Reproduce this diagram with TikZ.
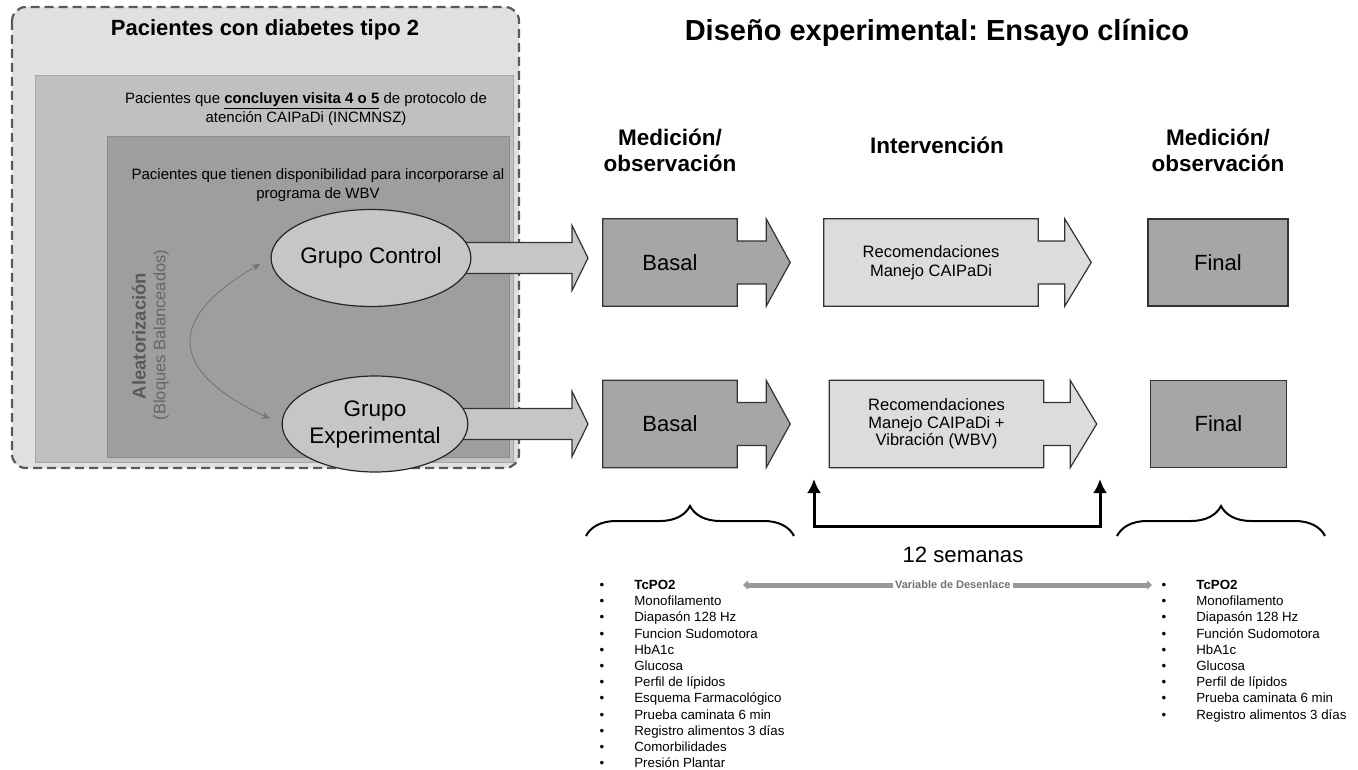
\documentclass[tikz,border=0pt]{standalone}
\usepackage{fontspec}
\setmainfont{Liberation Sans}
\usetikzlibrary{shapes.geometric, arrows.meta, positioning, calc, decorations.pathreplacing}
\frenchspacing

\definecolor{panelclaro}{HTML}{E0E0E0}
\definecolor{panelmedio}{HTML}{C0C0C0}
\definecolor{paneloscuro}{HTML}{9E9E9E}
\definecolor{grisgrupo}{HTML}{C6C6C6}
\definecolor{grismedicion}{HTML}{A6A6A6}
\definecolor{grisinterv}{HTML}{DCDCDC}

\pgfdeclarelayer{fondo}
\pgfdeclarelayer{medio}
\pgfsetlayers{fondo,medio,main}

\tikzstyle{grupo} = [ellipse, draw=black!85, line width=1.2pt, fill=grisgrupo, text centered, align=center, inner sep=0pt, font=\fontsize{22.5}{27}\selectfont]
\tikzstyle{medicion} = [rectangle, minimum width=134pt, minimum height=87pt, text centered, font=\fontsize{22}{26}\selectfont]
\tikzstyle{interv} = [rectangle, minimum width=214pt, minimum height=87pt, align=center, font=\fontsize{16.5}{19.5}\selectfont]
\tikzstyle{final} = [rectangle, minimum width=140pt, minimum height=87pt, draw=black!80, line width=1.2pt, fill=grismedicion, font=\fontsize{22}{26}\selectfont]
\tikzstyle{encabezado} = [align=center, font=\bfseries\fontsize{22.5}{26}\selectfont]
\tikzstyle{contorno} = [draw=black!80, line width=1.2pt]
\tikzstyle{lista} = [anchor=north west, inner sep=0pt, font=\fontsize{13.3}{16.2}\selectfont]
\tikzstyle{llave} = [decorate, decoration={brace, amplitude=30pt}, line width=2pt]
\tikzstyle{semanas} = [line width=3pt, <->, >={Latex[length=14pt,width=14pt]}]
\tikzstyle{desenlace} = [line width=5pt, draw=black!40, <->, >={Triangle[length=5pt,width=9pt]}]
\tikzstyle{aleat} = [draw=black!55, line width=0.8pt, <->, >={Stealth[length=8pt,width=7pt]}]

\newcommand{\flechacaja}[4]{%
  \draw[contorno, fill=#2] let \p1=(#1.north east), \p2=(#1.south east), \p3=(#1.east) in
    (#1.north west) -- (\p1) -- (\x1,\y3+21.5pt) -- (\x1+#3,\y3+21.5pt) -- (\x1+#3,\y1)
    -- (\x1+#3+#4,\y3) -- (\x1+#3,\y2) -- (\x1+#3,\y3-21.5pt) -- (\x1,\y3-21.5pt)
    -- (\p2) -- (#1.south west) -- cycle;}
\newcommand{\flechagrupo}[1]{%
  \draw[contorno, fill=grisgrupo] let \p1=(#1.center) in
    (\x1,\y1+15.5pt) -- (572pt,\y1+15.5pt) -- (572pt,\y1+32.5pt) -- (588pt,\y1)
    -- (572pt,\y1-32.5pt) -- (572pt,\y1-15.5pt) -- (\x1,\y1-15.5pt) -- cycle;}

\begin{document}
\begin{tikzpicture}[x=1pt, y=-1pt, node distance=100pt]
    \useasboundingbox (0,0) rectangle (1358,770);

    \begin{pgfonlayer}{fondo}
    \fill[white] (0,0) rectangle (1358,770);
    \draw[draw=black!65, line width=2.2pt, dash pattern=on 9pt off 5pt, rounded corners=14pt, fill=panelclaro] (12,7) rectangle (519,468);
    \draw[draw=black!35, fill=panelmedio] (35,75) rectangle (513,462);
    \draw[draw=black!45, fill=paneloscuro] (107,136) rectangle (509,457);
    \end{pgfonlayer}

    \node (tit1) at (265,30) [font=\bfseries\fontsize{22}{26}\selectfont] {Pacientes con diabetes tipo 2};
    \node (tit2) at (937,33) [font=\bfseries\fontsize{29}{34}\selectfont] {Diseño experimental: Ensayo clínico};
    \node (txt1) at (306,109) [align=center, font=\fontsize{15}{18.5}\selectfont] {Pacientes que \underline{\textbf{concluyen visita 4 o 5}} de protocolo de\\atención CAIPaDi (INCMNSZ)};
    \node (txt2) at (318,185) [align=center, font=\fontsize{15}{19.5}\selectfont] {Pacientes que tienen disponibilidad para incorporarse al\\programa de WBV};

    \node (alea) at (139,336) [rotate=90, text=black!65, font=\bfseries\fontsize{18.5}{22}\selectfont] {Aleatorización};
    \node (bloq) at (161,335) [rotate=90, text=black!60, font=\fontsize{16.5}{20}\selectfont] {(Bloques Balanceados)};

    \node (gc) at (371,258) [grupo, minimum width=192pt, minimum height=97pt] {Grupo Control};
    \node (ge) at (375,424) [grupo, minimum width=176pt, minimum height=96pt] {Grupo\\Experimental};
    \draw[aleat, shorten <=12pt, shorten >=13pt] (gc.west) to[out=210, in=155, looseness=1.9] (ge.west);

    \node (bas1) at (670,262.5) [medicion] {Basal};
    \node (rec1) [interv, right of=bas1, xshift=161pt] {Recomendaciones\\Manejo CAIPaDi};
    \node (fin1) [final, right of=rec1, xshift=187pt] {Final};
    \node (bas2) [medicion, below of=bas1, yshift=-61.5pt] {Basal};
    \node (rec2) [interv, right of=bas2, xshift=166.5pt, font=\fontsize{16.5}{17.5}\selectfont] {Recomendaciones\\Manejo CAIPaDi +\\Vibración (WBV)};
    \node (fin2) [final, right of=rec2, xshift=182pt, minimum width=136pt] {Final};

    \node (med1) [encabezado, above of=bas1, yshift=12.5pt] {Medición/\\observación};
    \node (intv) [encabezado, above of=rec1, xshift=6pt, yshift=17.5pt] {Intervención};
    \node (med2) [encabezado, above of=fin1, yshift=12.5pt] {Medición/\\observación};

    \begin{pgfonlayer}{medio}
    \flechagrupo{gc}
    \flechagrupo{ge}
    \flechacaja{bas1}{grismedicion}{29pt}{24pt}
    \flechacaja{bas2}{grismedicion}{29pt}{24pt}
    \flechacaja{rec1}{grisinterv}{26.5pt}{26.5pt}
    \flechacaja{rec2}{grisinterv}{26.5pt}{26.5pt}
    \end{pgfonlayer}

    \coordinate (ll1) at (586,536);
    \coordinate (ll2) at (794,536);
    \coordinate (lr1) at (1117,536);
    \coordinate (lr2) at (1325,536);
    \draw[llave] (ll1) -- (ll2);
    \draw[llave] (lr1) -- (lr2);

    \coordinate (s1) at (814,479);
    \coordinate (s2) at (1100,479);
    \draw[semanas] (s1) -- ++(0,47) -| (s2);
    \node (sem) at (963,555) [font=\fontsize{22.2}{26}\selectfont] {12 semanas};

    \coordinate (v1) at (743,585);
    \coordinate (v2) at (1152,585);
    \draw[desenlace] (v1) -- (v2) node (vd) [pos=0.513, fill=white, inner sep=2pt, text=black!55, font=\bfseries\fontsize{11}{13}\selectfont] {Variable de Desenlace};

    \node (lis1) at (599.5,578) [lista] {\begin{tabular}{@{}l@{\hspace{30pt}}l@{}}
      \textbullet & \textbf{TcPO2}\\
      \textbullet & Monofilamento\\
      \textbullet & Diapasón 128 Hz\\
      \textbullet & Funcion Sudomotora\\
      \textbullet & HbA1c\\
      \textbullet & Glucosa\\
      \textbullet & Perfil de lípidos\\
      \textbullet & Esquema Farmacológico\\
      \textbullet & Prueba caminata 6 min\\
      \textbullet & Registro alimentos 3 días\\
      \textbullet & Comorbilidades\\
      \textbullet & Presión Plantar
    \end{tabular}};
    \node (lis2) at (1161.5,578) [lista] {\begin{tabular}{@{}l@{\hspace{30pt}}l@{}}
      \textbullet & \textbf{TcPO2}\\
      \textbullet & Monofilamento\\
      \textbullet & Diapasón 128 Hz\\
      \textbullet & Función Sudomotora\\
      \textbullet & HbA1c\\
      \textbullet & Glucosa\\
      \textbullet & Perfil de lípidos\\
      \textbullet & Prueba caminata 6 min\\
      \textbullet & Registro alimentos 3 días
    \end{tabular}};
\end{tikzpicture}
\end{document}
